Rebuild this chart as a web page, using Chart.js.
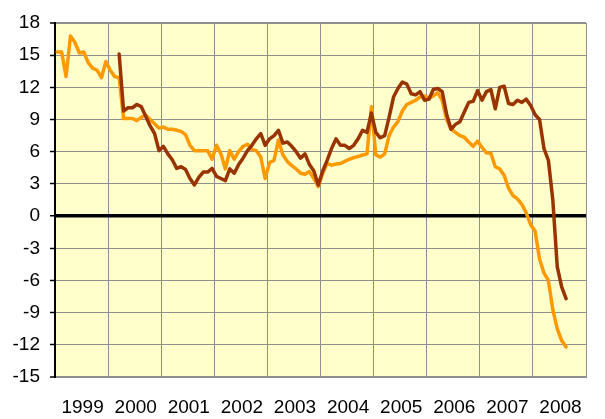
<!DOCTYPE html>
<html>
<head>
<meta charset="utf-8">
<script src="https://cdn.jsdelivr.net/npm/chart.js@4/dist/chart.umd.min.js"></script>
<style>
  html, body { margin: 0; padding: 0; background: #ffffff; }
  #wrap { width: 605px; height: 419px; }
</style>
</head>
<body>
<div id="wrap"><canvas id="c" width="605" height="419"></canvas></div>
<script>
// Year labels on the x axis (each year = 12 monthly slots)
const years = ['1999','2000','2001','2002','2003','2004','2005','2006','2007','2008'];
// Y-axis tick values
const yTicks = [18, 15, 12, 9, 6, 3, 0, -3, -6, -9, -12, -15];

// Orange series: monthly, starting Jan 1999
const orangeStart = 0;
const orangeValues = [
  15.3, 15.3, 13.0, 16.8, 16.2, 15.2, 15.3, 14.3, 13.8, 13.6, 12.9, 14.4,
  13.6, 13.0, 12.9, 9.1, 9.1, 9.1, 8.9, 9.2, 9.4, 9.0, 8.6, 8.2,
  8.3, 8.1, 8.1, 8.0, 7.9, 7.6, 6.6, 6.1, 6.1, 6.1, 6.1, 5.3,
  6.6, 5.8, 4.4, 6.1, 5.3, 6.0, 6.5, 6.7, 6.2, 6.1, 5.5, 3.5,
  5.0, 5.2, 7.1, 5.7, 5.1, 4.7, 4.4, 4.0, 3.9, 4.15, 3.5, 2.75,
  4.0, 4.9, 4.75, 4.85, 4.9, 5.1, 5.3, 5.45, 5.55, 5.7, 5.8, 10.2,
  5.7, 5.5, 5.8, 7.5, 8.3, 8.8, 9.8, 10.4, 10.6, 10.8, 11.1, 11.2,
  11.0, 11.2, 11.5, 10.8, 9.0, 8.1, 7.8, 7.5, 7.35, 6.9, 6.5, 7.0,
  6.4, 5.9, 5.85, 4.6, 4.4, 3.8, 2.6, 1.9, 1.6, 1.1, 0.3, -0.8,
  -1.4, -4.0, -5.3, -6.0, -8.7, -10.5, -11.6, -12.2
];

// Brown series: monthly, starting Mar 2000 (month index 14)
const brownStart = 14;
const brownValues = [
  15.1, 9.8, 10.1, 10.1, 10.4, 10.2, 9.3, 8.4, 7.7, 6.1,
  6.5, 5.8, 5.25, 4.45, 4.6, 4.35, 3.5, 2.9, 3.6, 4.1, 4.1, 4.45,
  3.7, 3.5, 3.3, 4.4, 4.0, 4.8, 5.4, 6.1, 6.6, 7.2, 7.7, 6.6,
  7.2, 7.5, 8.0, 6.8, 6.9, 6.5, 6.0, 5.4, 5.8, 4.8, 4.2, 2.9,
  4.2, 5.2, 6.3, 7.2, 6.6, 6.6, 6.3, 6.6, 7.2, 8.0, 7.8, 9.6,
  7.8, 7.3, 7.5, 9.2, 11.1, 11.9, 12.5, 12.3, 11.4, 11.3, 11.6, 10.8,
  10.9, 11.8, 11.9, 11.6, 9.5, 8.1, 8.55, 8.8, 9.7, 10.6, 10.7, 11.7,
  10.8, 11.6, 11.8, 10.0, 12.0, 12.1, 10.5, 10.4, 10.8, 10.6, 10.9, 10.3,
  9.45, 9.0, 6.3, 5.2, 1.5, -4.7, -6.6, -7.7
];

function toPoints(start, values) {
  return values.map((v, k) => ({ x: start + k + 0.5, y: v }));
}

const plotBg = {
  id: 'plotBg',
  beforeDraw(chart) {
    const a = chart.chartArea;
    const ctx = chart.ctx;
    ctx.save();
    ctx.fillStyle = '#FFFFCC';
    ctx.fillRect(a.left, a.top, a.right - a.left, a.bottom - a.top);
    ctx.restore();
  }
};

const FONT = { family: '"Liberation Sans", Arial, sans-serif', size: 19 };
const GRID = '#8f8f8f';

new Chart(document.getElementById('c'), {
  type: 'line',
  data: {
    datasets: [
      {
        label: 'brown',
        data: toPoints(brownStart, brownValues),
        borderColor: '#993300',
        borderWidth: 3.5,
        pointRadius: 0,
        tension: 0,
        borderJoinStyle: 'round',
        borderCapStyle: 'round',
        fill: false
      },
      {
        label: 'orange',
        data: toPoints(orangeStart, orangeValues),
        borderColor: '#FF9900',
        borderWidth: 3.5,
        pointRadius: 0,
        tension: 0,
        borderJoinStyle: 'round',
        borderCapStyle: 'round',
        fill: false
      }
    ]
  },
  options: {
    responsive: false,
    animation: false,
    devicePixelRatio: 1,
    layout: { padding: { top: 23, right: -2, left: 0, bottom: 0 } },
    plugins: {
      legend: { display: false },
      tooltip: { enabled: false }
    },
    scales: {
      x: {
        type: 'linear',
        min: 0,
        max: years.length * 12,
        afterBuildTicks(scale) {
          scale.ticks = years.map((y, i) => ({ value: i * 12 })).concat([{ value: years.length * 12 }]);
        },
        afterFit(scale) { scale.height = 42; },
        ticks: {
          autoSkip: false,
          maxRotation: 0,
          minRotation: 0,
          padding: 19,
          labelOffset: 27.6,
          color: '#000',
          font: FONT,
          callback: (v) => years[v / 12] || ''
        },
        grid: {
          color: GRID,
          lineWidth: 1,
          drawTicks: false
        },
        border: { display: true, color: GRID, width: 2 }
      },
      y: {
        min: -15,
        max: 18,
        afterBuildTicks(scale) {
          scale.ticks = yTicks.map(v => ({ value: v }));
        },
        afterFit(scale) { scale.width = 55; },
        ticks: {
          padding: 10,
          color: '#000',
          font: FONT,
          callback: (v) => String(v)
        },
        grid: {
          color: (ctx) => (ctx.tick && ctx.tick.value === 0) ? '#000000' : GRID,
          lineWidth: (ctx) => {
            if (!ctx.tick) return 1;
            if (ctx.tick.value === 0) return 3.5;
            if (ctx.tick.value === 18 || ctx.tick.value === -15) return 2;
            return 1;
          },
          tickLength: 5,
          tickColor: '#000000',
          tickWidth: 1.5
        },
        border: { display: true, color: '#000000', width: 2 }
      }
    }
  },
  plugins: [plotBg]
});
</script>
</body>
</html>
